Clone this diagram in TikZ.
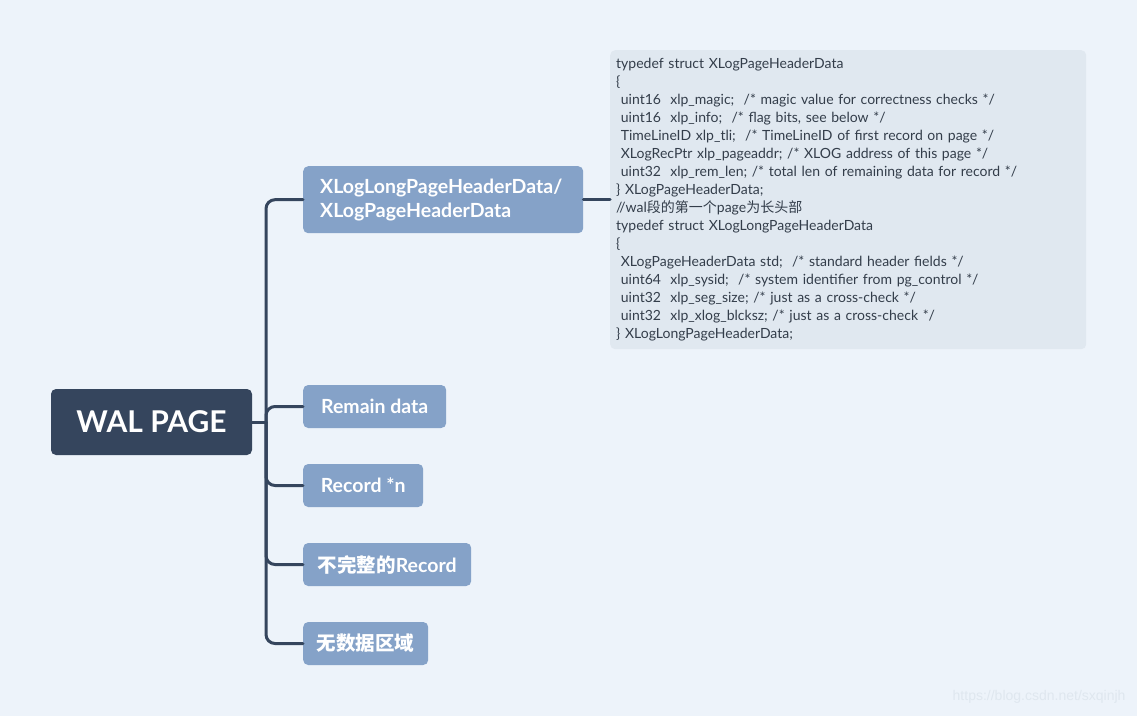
\documentclass[tikz,border=0pt]{standalone}
\usepackage{fontspec}
\setmainfont{Lato}
\newfontfamily\cjk{Noto Sans CJK SC}
\newfontfamily\wmfont{Liberation Sans}
\definecolor{bg}{HTML}{EDF3FA}
\definecolor{rootblue}{HTML}{35455D}
\definecolor{topicblue}{HTML}{85A2C8}
\definecolor{codebg}{HTML}{E0E8F0}
\definecolor{codetext}{HTML}{333D4A}
\definecolor{wmgray}{HTML}{DFE7EF}

\begin{document}
\begin{tikzpicture}[x=1pt,y=-1pt,line cap=round]
	\tikzstyle{root}=[rounded corners=5pt,fill=rootblue,text=white,font=\bfseries\fontsize{30}{34}\selectfont,minimum width=201pt,minimum height=66pt,inner sep=0pt];
	\tikzstyle{topic}=[rounded corners=5pt,fill=topicblue,text=white,font=\bfseries\fontsize{19.5}{24}\selectfont,minimum height=43pt,inner sep=0pt,anchor=west];
	\tikzstyle{link}=[draw=rootblue,line width=3pt,rounded corners=9pt];
	\tikzstyle{code}=[rounded corners=5pt,fill=codebg,text=codetext,font=\fontsize{14}{18}\selectfont,align=left,anchor=north west,text width=464pt,inner xsep=6pt,inner ysep=8pt,minimum height=299pt];

	\fill[bg] (0,0) rectangle (1137,716);
	\useasboundingbox (0,0) rectangle (1137,716);

	\node[root] (wal) at (151.5,422) {WAL PAGE};
	\node[topic,anchor=north west,align=left,text width=246pt,inner xsep=17pt,minimum height=67pt] (hdr) at (303,166) {XLogLongPageHeaderData/\\XLogPageHeaderData};
	\node[topic,minimum width=143pt] (remain) at (303,406.5) {Remain data};
	\node[topic,minimum width=120pt] (rec) at (303,485.5) {Record *n};
	\node[topic,minimum width=168pt] (part) at (303,564.5) {{\cjk 不完整的}Record};
	\node[topic,minimum width=125pt] (empty) at (303,643.5) {\cjk 无数据区域};

	\node[code] (def) at (610,50) {typedef struct XLogPageHeaderData\\
\{\\
\ uint16\ \ xlp\_magic;\ \ /* magic value for correctness checks */\\
\ uint16\ \ xlp\_info;\ \ /* flag bits, see below */\\
\ TimeLineID xlp\_tli;\ \ /* TimeLineID of first record on page */\\
\ XLogRecPtr xlp\_pageaddr; /* XLOG address of this page */\\
\ uint32\ \ xlp\_rem\_len; /* total len of remaining data for record */\\
\} XLogPageHeaderData;\\
//wal{\cjk 段的第一个}page{\cjk 为长头部}\\
typedef struct XLogLongPageHeaderData\\
\{\\
\ XLogPageHeaderData std;\ \ /* standard header fields */\\
\ uint64\ \ xlp\_sysid;\ \ /* system identifier from pg\_control */\\
\ uint32\ \ xlp\_seg\_size; /* just as a cross-check */\\
\ uint32\ \ xlp\_xlog\_blcksz; /* just as a cross-check */\\
\} XLogLongPageHeaderData;};

	% tree connectors
	\coordinate (hub) at (266,422);
	\draw[link] (wal.east) -- (hub);
	\foreach \b in {hdr,remain,rec,part,empty}
		\draw[link] (hub) |- (\b.west);
	\draw[link] (hdr.east) -- (def.west |- hdr.east);

	\node[wmgray,font=\wmfont\fontsize{14}{16}\selectfont,anchor=east] (wm) at (1129,697) {https://blog.csdn.net/sxqinjh};
\end{tikzpicture}
\end{document}
